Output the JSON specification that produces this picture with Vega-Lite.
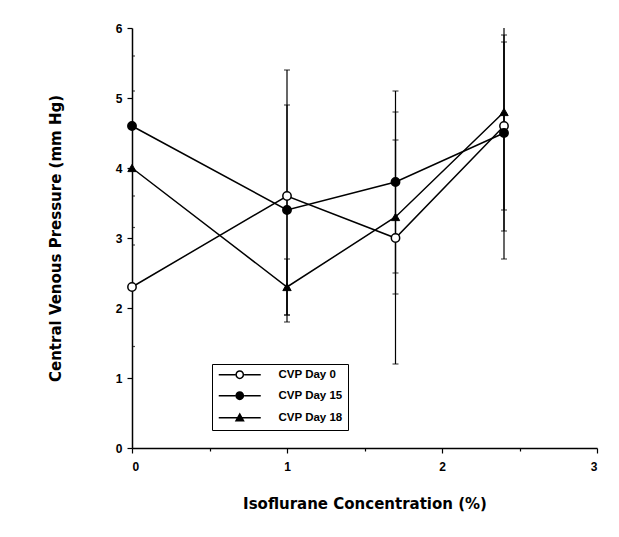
{
  "$schema": "https://vega.github.io/schema/vega-lite/v6.json",
  "width": 465,
  "height": 420,
  "autosize": "none",
  "padding": {"left": 132, "top": 28, "right": 22, "bottom": 89},
  "background": "white",
  "config": {
    "view": {"stroke": null},
    "font": "Liberation Sans",
    "axis": {
      "domainColor": "black",
      "domainWidth": 1.5,
      "tickColor": "black",
      "tickWidth": 1.2,
      "grid": false,
      "labelFont": "Liberation Sans",
      "labelFontWeight": "bold",
      "labelFontSize": 12,
      "labelColor": "black",
      "titleFont": "DejaVu Sans",
      "titleFontWeight": "bold",
      "titleFontSize": 15,
      "titleColor": "black"
    }
  },
  "data": {
    "values": [
      {"series": "CVP Day 0", "conc": 0, "cvp": 2.3, "lo": 1.45, "hi": 3.15},
      {"series": "CVP Day 0", "conc": 1, "cvp": 3.6, "lo": 1.8, "hi": 5.4},
      {"series": "CVP Day 0", "conc": 1.7, "cvp": 3.0, "lo": 1.2, "hi": 4.8},
      {"series": "CVP Day 0", "conc": 2.4, "cvp": 4.6, "lo": 3.4, "hi": 5.8},
      {"series": "CVP Day 15", "conc": 0, "cvp": 4.6, "lo": 3.6, "hi": 5.6},
      {"series": "CVP Day 15", "conc": 1, "cvp": 3.4, "lo": 1.9, "hi": 4.9},
      {"series": "CVP Day 15", "conc": 1.7, "cvp": 3.8, "lo": 2.5, "hi": 5.1},
      {"series": "CVP Day 15", "conc": 2.4, "cvp": 4.5, "lo": 3.1, "hi": 5.9},
      {"series": "CVP Day 18", "conc": 0, "cvp": 4.0, "lo": 2.9, "hi": 5.1},
      {"series": "CVP Day 18", "conc": 1, "cvp": 2.3, "lo": 1.9, "hi": 2.7},
      {"series": "CVP Day 18", "conc": 1.7, "cvp": 3.3, "lo": 2.2, "hi": 4.4},
      {"series": "CVP Day 18", "conc": 2.4, "cvp": 4.8, "lo": 2.7, "hi": 6.9}
    ]
  },
  "encoding": {
    "x": {
      "field": "conc",
      "type": "quantitative",
      "scale": {"domain": [0, 3], "nice": false, "zero": false},
      "axis": {
        "title": "Isoflurane Concentration (%)",
        "values": [0, 0.5, 1, 1.5, 2, 2.5, 3],
        "labelExpr": "datum.value % 1 === 0 ? format(datum.value, 'd') : ''",
        "tickSize": {"condition": {"test": "datum.value % 1 === 0", "value": 5}, "value": 3},
        "labelPadding": 8,
        "titlePadding": 24
      }
    }
  },
  "layer": [
    {
      "mark": {"type": "rule", "color": "black", "strokeWidth": 1.2, "clip": true},
      "encoding": {
        "y": {
          "field": "lo",
          "type": "quantitative",
          "scale": {"domain": [0, 6], "nice": false},
          "axis": {
            "title": "Central Venous Pressure (mm Hg)",
            "values": [0, 0.5, 1, 1.5, 2, 2.5, 3, 3.5, 4, 4.5, 5, 5.5, 6],
            "labelExpr": "datum.value % 1 === 0 ? format(datum.value, 'd') : ''",
            "tickSize": {"condition": {"test": "datum.value % 1 === 0", "value": 5}, "value": 3},
            "labelPadding": 5,
            "titlePadding": 52
          }
        },
        "y2": {"field": "hi"}
      }
    },
    {
      "mark": {"type": "tick", "orient": "horizontal", "color": "black", "size": 6, "thickness": 1.2, "clip": true},
      "encoding": {"y": {"field": "lo", "type": "quantitative"}}
    },
    {
      "mark": {"type": "tick", "orient": "horizontal", "color": "black", "size": 6, "thickness": 1.2, "clip": true},
      "encoding": {"y": {"field": "hi", "type": "quantitative"}}
    },
    {
      "mark": {"type": "line", "color": "black", "strokeWidth": 1.5},
      "encoding": {
        "y": {"field": "cvp", "type": "quantitative"},
        "detail": {"field": "series"}
      }
    },
    {
      "transform": [{"filter": "datum.series === 'CVP Day 0'"}],
      "mark": {"type": "point", "shape": "circle", "filled": true, "size": 70, "fill": "white", "stroke": "black", "strokeWidth": 1.5, "opacity": 1},
      "encoding": {"y": {"field": "cvp", "type": "quantitative"}}
    },
    {
      "transform": [{"filter": "datum.series === 'CVP Day 15'"}],
      "mark": {"type": "point", "shape": "circle", "filled": true, "size": 70, "fill": "black", "stroke": "black", "strokeWidth": 1.5, "opacity": 1},
      "encoding": {"y": {"field": "cvp", "type": "quantitative"}}
    },
    {
      "transform": [{"filter": "datum.series === 'CVP Day 18'"}],
      "mark": {"type": "point", "shape": "triangle-up", "filled": true, "size": 70, "fill": "black", "stroke": "black", "strokeWidth": 1, "opacity": 1},
      "encoding": {"y": {"field": "cvp", "type": "quantitative"}}
    },
    {
      "transform": [{"filter": "false"}],
      "mark": {"type": "point", "filled": true, "size": 64, "color": "black", "opacity": 1},
      "encoding": {
        "y": {"field": "cvp", "type": "quantitative"},
        "shape": {
          "field": "series",
          "type": "nominal",
          "title": null,
          "scale": {
            "domain": ["CVP Day 0", "CVP Day 15", "CVP Day 18"],
            "range": [
              "M-5.25,-0.19H-1.1V0.19H-5.25ZM1.1,-0.19H5.25V0.19H1.1ZM1.1,0A1.1,1.1 0 1,1 -1.1,0A1.1,1.1 0 1,1 1.1,0ZM0.72,0A0.72,0.72 0 1,0 -0.72,0A0.72,0.72 0 1,0 0.72,0Z",
              "M-5.25,-0.19H-1.1V0.19H-5.25ZM1.1,-0.19H5.25V0.19H1.1ZM1.1,0A1.1,1.1 0 1,1 -1.1,0A1.1,1.1 0 1,1 1.1,0Z",
              "M-5.25,-0.19H5.25V0.19H-5.25ZM0,-1.3L1.25,0.95L-1.25,0.95Z"
            ]
          },
          "legend": {
            "title": null,
            "orient": "none",
            "legendX": 80,
            "legendY": 336,
            "padding": 5,
            "strokeColor": "black",
            "fillColor": "white",
            "labelFont": "Liberation Sans",
            "labelFontWeight": "bold",
            "labelFontSize": 11.5,
            "labelColor": "black",
            "symbolSize": 64,
            "symbolOffset": 17,
            "symbolFillColor": "black",
            "symbolOpacity": 1,
            "labelOffset": 33,
            "rowPadding": 5
          }
        }
      }
    }
  ]
}
